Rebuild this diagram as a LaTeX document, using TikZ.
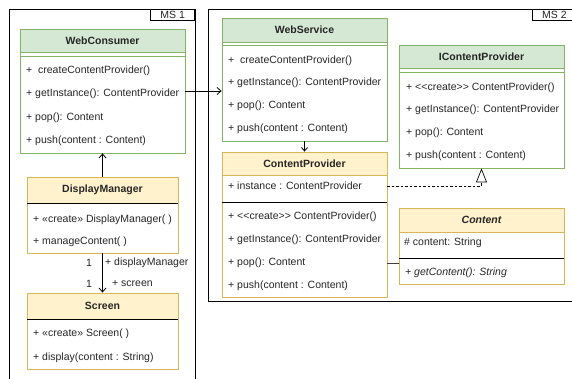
\documentclass[tikz,border=0pt]{standalone}
\usepackage{fontspec}
\setmainfont{Liberation Sans}
\usetikzlibrary{arrows.meta}
\definecolor{grnfill}{HTML}{D5E8D4}
\definecolor{grnline}{HTML}{82B366}
\definecolor{yelfill}{HTML}{FFF2CC}
\definecolor{yelline}{HTML}{D6B656}
\definecolor{ink}{HTML}{262626}
\begin{document}
\begin{tikzpicture}[x=1pt,y=-1pt,
  font=\fontsize{10.5}{12}\selectfont, text=ink,
  box/.style={draw=#1, fill=white, line width=0.8pt, inner sep=0pt},
  head/.style={draw=#1, line width=0.8pt, inner sep=0pt, anchor=north,
    font=\fontsize{10.5}{12}\selectfont\bfseries},
  mem/.style={anchor=west, inner sep=0pt},
  lbl/.style={inner sep=0pt},
  sepline/.style={line width=0.8pt},
  frame/.style={draw=black, line width=0.8pt},
  dep/.style={draw=black, line width=0.8pt, -{Straight Barb[length=4pt,width=7pt]}},
  real/.style={draw=black, line width=0.7pt, dash pattern=on 2.5pt off 2pt,
    -{Triangle[open, length=14pt, width=11pt, fill=white]}},
  assoc/.style={draw=black!75, line width=0.8pt},
]
\fill[white] (0,0) rectangle (572,379);
\useasboundingbox (0,0) rectangle (572,379);

% ---------- package frames ----------
\draw[frame] (9,385) -- (9,9) -- (195,9) -- (195,385);
\node[draw, line width=0.8pt, minimum width=44pt, minimum height=11pt, inner sep=0pt,
  anchor=north east] (ms1) at (195,9) {MS 1};
\draw[frame] (208,9) rectangle (576,301);
\node[draw, line width=0.8pt, minimum width=44pt, minimum height=11pt, inner sep=0pt,
  anchor=north west] (ms2) at (532,9) {MS 2};

% ---------- WebConsumer ----------
\node[box=grnline, minimum width=165pt, minimum height=124pt] (wc) at (102.5,91) {};
\node[head=grnline, fill=grnfill, minimum width=165pt, minimum height=23pt] (wch)
  at (wc.north) {WebConsumer};
\draw[grnline, sepline] (20,56) -- (185,56);
\node[mem] (wc1) at (26,71)  {+\ \ createContentProvider()};
\node[mem] (wc2) at (26,94)  {+ getInstance(): ContentProvider};
\node[mem] (wc3) at (26,118) {+ pop(): Content};
\node[mem] (wc4) at (26,141) {+ push(content : Content)};

% ---------- DisplayManager ----------
\node[box=yelline, minimum width=151pt, minimum height=76pt] (dm) at (102.5,215) {};
\node[head=yelline, fill=yelfill, minimum width=151pt, minimum height=26pt] (dmh)
  at (dm.north) {DisplayManager};
\draw[black, sepline] (27,203) -- (178,203);
\node[mem] (dm1) at (33,220) {+ «create» DisplayManager( )};
\node[mem] (dm2) at (33,242) {+ manageContent( )};

% ---------- Screen ----------
\node[box=yelline, minimum width=151pt, minimum height=76pt] (scr) at (102.5,331) {};
\node[head=yelline, fill=yelfill, minimum width=151pt, minimum height=26pt] (scrh)
  at (scr.north) {Screen};
\draw[black, sepline] (27,319) -- (178,319);
\node[mem] (scr1) at (33,334) {+ «create» Screen( )};
\node[mem] (scr2) at (33,358) {+ display(content : String)};

% ---------- WebService ----------
\node[box=grnline, minimum width=165pt, minimum height=123pt] (ws) at (304.5,79.5) {};
\node[head=grnline, fill=grnfill, minimum width=165pt, minimum height=24pt] (wsh)
  at (ws.north) {WebService};
\draw[grnline, sepline] (222,45) -- (387,45);
\node[mem] (ws1) at (228,61)  {+\ \ createContentProvider()};
\node[mem] (ws2) at (228,83)  {+ getInstance(): ContentProvider};
\node[mem] (ws3) at (228,106) {+ pop(): Content};
\node[mem] (ws4) at (228,129) {+ push(content : Content)};

% ---------- ContentProvider ----------
\node[box=yelline, minimum width=165pt, minimum height=145pt] (cp) at (304.5,224.5) {};
\node[head=yelline, fill=yelfill, minimum width=165pt, minimum height=23pt] (cph)
  at (cp.north) {ContentProvider};
\node[mem] (cpa) at (228,186) {+ instance : ContentProvider};
\draw[black, sepline] (222,202) -- (387,202);
\node[mem] (cp1) at (228,217) {+ <{}<create>{}> ContentProvider()};
\node[mem] (cp2) at (228,240) {+ getInstance(): ContentProvider};
\node[mem] (cp3) at (228,263) {+ pop(): Content};
\node[mem] (cp4) at (228,286) {+ push(content : Content)};

% ---------- IContentProvider ----------
\node[box=grnline, minimum width=165pt, minimum height=123pt] (icp) at (481.5,106.5) {};
\node[head=grnline, fill=grnfill, minimum width=165pt, minimum height=23pt] (icph)
  at (icp.north) {IContentProvider};
\draw[grnline, sepline] (399,72) -- (564,72);
\node[mem] (icp1) at (406,88)  {+ <{}<create>{}> ContentProvider()};
\node[mem] (icp2) at (406,110) {+ getInstance(): ContentProvider};
\node[mem] (icp3) at (406,133) {+ pop(): Content};
\node[mem] (icp4) at (406,156) {+ push(content : Content)};

% ---------- Content ----------
\node[box=yelline, minimum width=165pt, minimum height=76pt] (ct) at (481.5,246) {};
\node[head=yelline, fill=yelfill, minimum width=165pt, minimum height=24pt,
  font=\fontsize{10.5}{12}\selectfont\bfseries\itshape] (cth) at (ct.north) {Content};
\node[mem] (cta) at (404,243) {\# content: String};
\draw[black, sepline] (399,258) -- (564,258);
\node[mem, font=\fontsize{10.5}{12}\selectfont\itshape] (ct1) at (405,273) {+ getContent(): String};

% ---------- connectors ----------
\draw[dep] (dm.north) -- (wc.south);
\draw[dep] (wc.east) -- (wc.east -| ws.west);
\draw[black, line width=0.8pt, -{Straight Barb[length=3.5pt,width=6pt]}] (ws.south) -- (cp.north);
\draw[dep] (dm.south) -- (scr.north);
\draw[real] (cp.east |- cpa) -| (icp.south);
\draw[assoc] (cp.east |- cp3) -- (ct.west |- cp3);

% association end labels
\node[lbl] (m1) at (89,263) {1};
\node[lbl, anchor=west] (r1) at (105,263) {+ displayManager};
\node[lbl] (m2) at (89,284) {1};
\node[lbl, anchor=west] (r2) at (112,284) {+ screen};
\end{tikzpicture}
\end{document}
